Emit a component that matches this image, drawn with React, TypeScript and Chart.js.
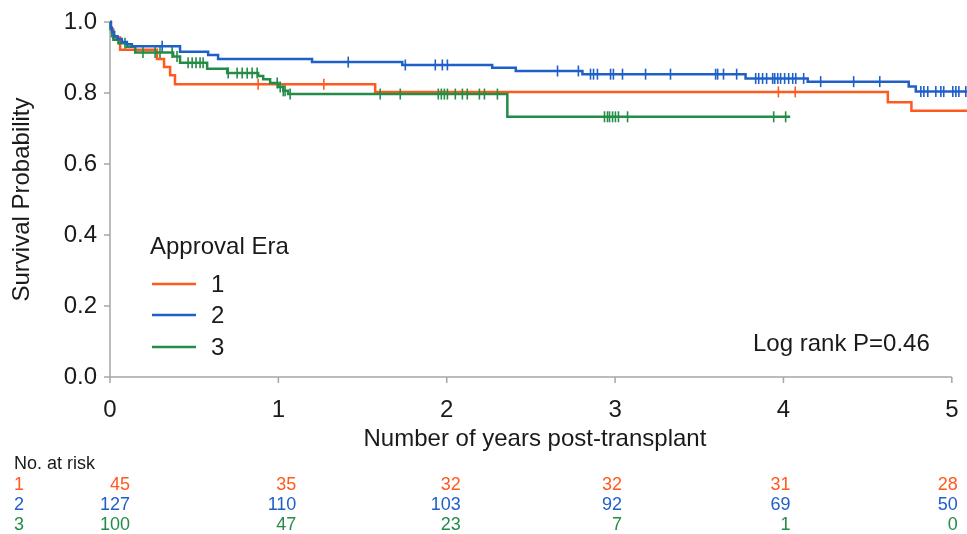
import React, { useEffect, useRef } from "react";
import { Chart, registerables } from "chart.js";

Chart.register(...registerables);

// ---------- data ----------
const ERA_LABELS = ["1", "2", "3"];
const ERA_COLORS = ["#ff5a1e", "#1f5fc8", "#238c46"];

// Kaplan-Meier step points (years, survival after the step)
const era1Times = [0, 0.006, 0.02, 0.06, 0.279, 0.321, 0.357, 0.386, 1.575, 4.62, 4.76, 5.09];
const era1Surv = [1, 0.978, 0.956, 0.922, 0.896, 0.873, 0.85, 0.825, 0.803, 0.774, 0.75, 0.75];
const era1Censor = [0.88, 1.27, 3.97, 4.07];

const era2Times = [0, 0.005, 0.012, 0.025, 0.045, 0.07, 0.1, 0.13, 0.416, 0.583, 0.642, 1.2, 1.736, 2.27, 2.41, 2.806, 3.775, 4.144, 4.744, 4.786, 5.09];
const era2Surv = [1, 0.984, 0.972, 0.96, 0.952, 0.944, 0.937, 0.932, 0.916, 0.907, 0.896, 0.887, 0.879, 0.871, 0.862, 0.853, 0.841, 0.832, 0.818, 0.804, 0.804];
const era2Censor = [0.31, 1.415, 1.754, 1.932, 1.974, 2.004, 2.658, 2.782, 2.854, 2.872, 2.895, 2.973, 2.99, 3.044, 3.181, 3.329, 3.597, 3.609, 3.644, 3.722, 3.835, 3.853, 3.876, 3.9, 3.936, 3.948, 3.966, 3.983, 4.007, 4.031, 4.055, 4.073, 4.12, 4.221, 4.417, 4.572, 4.816, 4.834, 4.857, 4.905, 4.935, 4.952, 5.006, 5.024, 5.042, 5.083];

const era3Times = [0, 0.004, 0.012, 0.02, 0.05, 0.1, 0.15, 0.375, 0.416, 0.577, 0.696, 0.88, 0.91, 0.951, 0.999, 1.029, 1.058, 2.36, 4.04];
const era3Surv = [1, 0.98, 0.96, 0.95, 0.94, 0.93, 0.914, 0.903, 0.885, 0.868, 0.856, 0.848, 0.839, 0.828, 0.817, 0.806, 0.797, 0.733, 0.733];
const era3Censor = [0.089, 0.196, 0.268, 0.297, 0.369, 0.398, 0.464, 0.488, 0.511, 0.535, 0.553, 0.702, 0.755, 0.785, 0.815, 0.844, 0.874, 0.993, 1.011, 1.029, 1.04, 1.07, 1.605, 1.724, 1.95, 1.968, 1.986, 2.004, 2.051, 2.093, 2.122, 2.194, 2.224, 2.301, 2.937, 2.955, 2.967, 2.985, 3.002, 3.02, 3.074, 3.942, 4.013];

const X_TICKS = [0, 1, 2, 3, 4, 5];
const Y_TICKS = [0, 0.2, 0.4, 0.6, 0.8, 1.0];

const RISK_TITLE = "No. at risk";
const risk1 = [45, 35, 32, 32, 31, 28];
const risk2 = [127, 110, 103, 92, 69, 50];
const risk3 = [100, 47, 23, 7, 1, 0];

const LEGEND_TITLE = "Approval Era";
const PVALUE_TEXT = "Log rank P=0.46";
const X_TITLE = "Number of years post-transplant";
const Y_TITLE = "Survival Probability";

// ---------- layout (pixels) ----------
const W = 967;
const H = 534;
const FONT = "'Liberation Sans', Arial, Helvetica, sans-serif";
const RISK_OFFSETS = [20, 18, 14, 7, 7, 6];
const AXIS_GRAY = "#a6a6a6";
const TEXT = "#1a1a1a";

function survAt(times: number[], surv: number[], t: number) {
  let v = surv[0];
  for (let i = 0; i < times.length; i++) {
    if (times[i] <= t) v = surv[i];
  }
  return v;
}

const overlay = {
  id: "overlay",
  beforeDatasetsDraw(chart: any) {
    const { ctx, scales } = chart;
    const x = scales.x;
    const y = scales.y;
    ctx.save();
    ctx.strokeStyle = AXIS_GRAY;
    ctx.lineWidth = 1.5;
    ctx.beginPath();
    ctx.moveTo(x.getPixelForValue(0), y.getPixelForValue(1));
    ctx.lineTo(x.getPixelForValue(0), y.getPixelForValue(0));
    ctx.moveTo(x.getPixelForValue(0) - 6, y.getPixelForValue(0));
    ctx.lineTo(x.getPixelForValue(5), y.getPixelForValue(0));
    Y_TICKS.forEach((v) => {
      const py = y.getPixelForValue(v);
      ctx.moveTo(x.getPixelForValue(0) - 6, py);
      ctx.lineTo(x.getPixelForValue(0), py);
    });
    X_TICKS.forEach((v) => {
      const px = x.getPixelForValue(v);
      ctx.moveTo(px, y.getPixelForValue(0));
      ctx.lineTo(px, y.getPixelForValue(0) + 6);
    });
    ctx.stroke();
    ctx.restore();
  },
  afterDraw(chart: any) {
    const { ctx, scales } = chart;
    const x = scales.x;
    ctx.save();
    // legend
    ctx.font = `24px ${FONT}`;
    ctx.fillStyle = TEXT;
    ctx.textBaseline = "middle";
    ctx.textAlign = "left";
    ctx.fillText(LEGEND_TITLE, 150, 247);
    const rows = [284, 315, 347];
    ERA_LABELS.forEach((lab, i) => {
      ctx.strokeStyle = ERA_COLORS[i];
      ctx.lineWidth = 2.5;
      ctx.beginPath();
      ctx.moveTo(152, rows[i]);
      ctx.lineTo(196, rows[i]);
      ctx.stroke();
      ctx.fillStyle = TEXT;
      ctx.fillText(lab, 211, rows[i] + 1);
    });
    // p value
    ctx.fillText(PVALUE_TEXT, 753, 344);
    // risk table
    ctx.font = `18px ${FONT}`;
    ctx.fillStyle = TEXT;
    ctx.fillText(RISK_TITLE, 14, 464);
    const riskRows = [risk1, risk2, risk3];
    const riskY = [485, 505, 525];
    riskRows.forEach((row, r) => {
      ctx.fillStyle = ERA_COLORS[r];
      ctx.textAlign = "left";
      ctx.fillText(ERA_LABELS[r], 14, riskY[r]);
      ctx.textAlign = "right";
      row.forEach((n, i) => {
        const px = x.getPixelForValue(X_TICKS[i]) + RISK_OFFSETS[i];
        ctx.fillText(String(n), px, riskY[r]);
      });
    });
    ctx.restore();
  },
};

export default function App() {
  const ref = useRef<HTMLCanvasElement | null>(null);
  useEffect(() => {
    document.body.style.margin = "0";
    const canvas = ref.current;
    if (!canvas) return;
    Chart.defaults.font.family = FONT;

    const eras = [
      { times: era1Times, surv: era1Surv, censor: era1Censor },
      { times: era2Times, surv: era2Surv, censor: era2Censor },
      { times: era3Times, surv: era3Surv, censor: era3Censor },
    ];
    const order = [1, 2, 0];
    const datasets: any[] = [];
    order.forEach((i) => {
      const e = eras[i];
      datasets.push({
        label: ERA_LABELS[i],
        data: e.times.map((t, k) => ({ x: t, y: e.surv[k] })),
        borderColor: ERA_COLORS[i],
        borderWidth: 2.5,
        stepped: true,
        pointRadius: 0,
        fill: false,
        clip: false,
      });
      datasets.push({
        label: ERA_LABELS[i] + " censored",
        data: e.censor.map((t) => ({ x: t, y: survAt(e.times, e.surv, t) })),
        showLine: false,
        pointStyle: "line",
        rotation: 90,
        pointRadius: 5.5,
        pointBorderWidth: 1.6,
        borderColor: ERA_COLORS[i],
        backgroundColor: ERA_COLORS[i],
        clip: false,
      });
    });

    const chart = new Chart(canvas, {
      type: "line",
      data: { datasets },
      options: {
        responsive: false,
        animation: false,
        events: [],
        layout: { padding: { top: 22, right: 0, left: 0, bottom: 0 } },
        plugins: { legend: { display: false }, tooltip: { enabled: false } },
        scales: {
          x: {
            type: "linear",
            min: 0,
            max: 5.048,
            grid: { display: false, drawTicks: false },
            border: { display: false },
            afterBuildTicks: (s: any) => {
              s.ticks = X_TICKS.map((v) => ({ value: v }));
            },
            afterFit: (s: any) => {
              s.height = H - 377;
              s.paddingLeft = 0;
              s.paddingRight = 0;
            },
            ticks: {
              autoSkip: false,
              maxRotation: 0,
              padding: 19,
              color: TEXT,
              font: { size: 24 },
              callback: (v: any) => String(v),
            },
            title: {
              display: true,
              text: X_TITLE,
              color: TEXT,
              font: { size: 24 },
              padding: { top: 0, bottom: 80 },
            },
          },
          y: {
            type: "linear",
            min: 0,
            max: 1,
            grid: { display: false, drawTicks: false },
            border: { display: false },
            afterBuildTicks: (s: any) => {
              s.ticks = Y_TICKS.map((v) => ({ value: v }));
            },
            afterFit: (s: any) => {
              s.width = 110;
              s.paddingTop = 0;
              s.paddingBottom = 0;
            },
            ticks: {
              padding: 13,
              color: TEXT,
              font: { size: 24 },
              callback: (v: any) => Number(v).toFixed(1),
            },
            title: {
              display: true,
              text: Y_TITLE,
              color: TEXT,
              font: { size: 24 },
              padding: { top: 8, bottom: 0 },
            },
          },
        },
      },
      plugins: [overlay],
    });
    return () => chart.destroy();
  }, []);
  return <canvas ref={ref} width={W} height={H} style={{ display: "block" }} />;
}
